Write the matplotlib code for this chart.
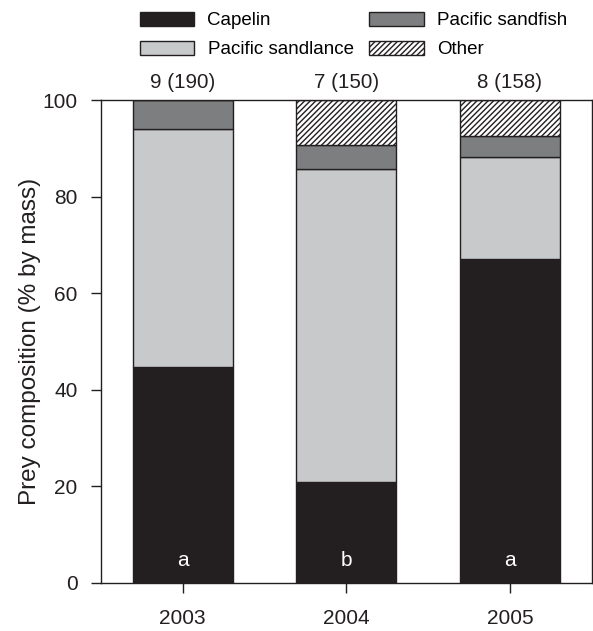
import matplotlib
matplotlib.use("Agg")
import matplotlib.pyplot as plt
import numpy as np

years = ["2003", "2004", "2005"]
capelin = [44.6, 20.8, 67.0]
sandlance = [49.4, 64.9, 21.1]
sandfish = [6.0, 4.9, 4.5]
other = [0.0, 9.4, 7.4]
sample_labels = ["9 (190)", "7 (150)", "8 (158)"]
group_letters = ["a", "b", "a"]

plt.rcParams["font.family"] = ["Liberation Sans", "DejaVu Sans"]
plt.rcParams["hatch.linewidth"] = 1.0
plt.rcParams["hatch.color"] = "#231f20"

dark = "#231f20"
fig = plt.figure(figsize=(5.93, 6.31), dpi=100)
ax = fig.add_axes([0.1703, 0.0766, 0.8275, 0.7649])

x = np.arange(len(years))
w = 0.61
common = dict(width=w, edgecolor=dark, linewidth=1.0)

b1 = ax.bar(x, capelin, color="#231f20", label="Capelin", **common)
bottom = np.array(capelin)
b2 = ax.bar(x, sandlance, bottom=bottom, color="#c8c9cb", label="Pacific sandlance", **common)
bottom = bottom + np.array(sandlance)
b3 = ax.bar(x, sandfish, bottom=bottom, color="#7d7e80", label="Pacific sandfish", **common)
bottom = bottom + np.array(sandfish)
b4 = ax.bar(x, other, bottom=bottom, color="white", hatch="//////", label="Other", **common)

for xi, s in zip(x, sample_labels):
    ax.text(xi, 101.6, s, ha="center", va="bottom", fontsize=14.8, color=dark)
for xi, s in zip(x, group_letters):
    ax.text(xi, 4.5, s, ha="center", va="center", fontsize=15, color="white")

ax.set_xlim(-0.5, 2.5)
ax.set_ylim(0, 100)
ax.set_xticks(x)
ax.set_xticklabels(years)
ax.set_yticks(range(0, 101, 20))
ax.tick_params(axis="both", labelsize=15, direction="out", length=7, width=1, colors=dark)
ax.tick_params(axis="x", pad=12)
ax.tick_params(axis="y", pad=10)
ax.set_ylabel("Prey composition (% by mass)", fontsize=17.5, color=dark, labelpad=1)
for sp in ax.spines.values():
    sp.set_color(dark)
    sp.set_linewidth(1.0)

fig.legend(handles=[b1, b2, b3, b4], ncol=2, frameon=False, fontsize=13.5,
           loc="upper left", bbox_to_anchor=(140 / 593, 1 - 12 / 631),
           borderpad=0, borderaxespad=0,
           handlelength=2.9, handleheight=0.75, handletextpad=0.7,
           columnspacing=0.85, labelspacing=0.62)

fig.savefig("out.png", dpi=100)
